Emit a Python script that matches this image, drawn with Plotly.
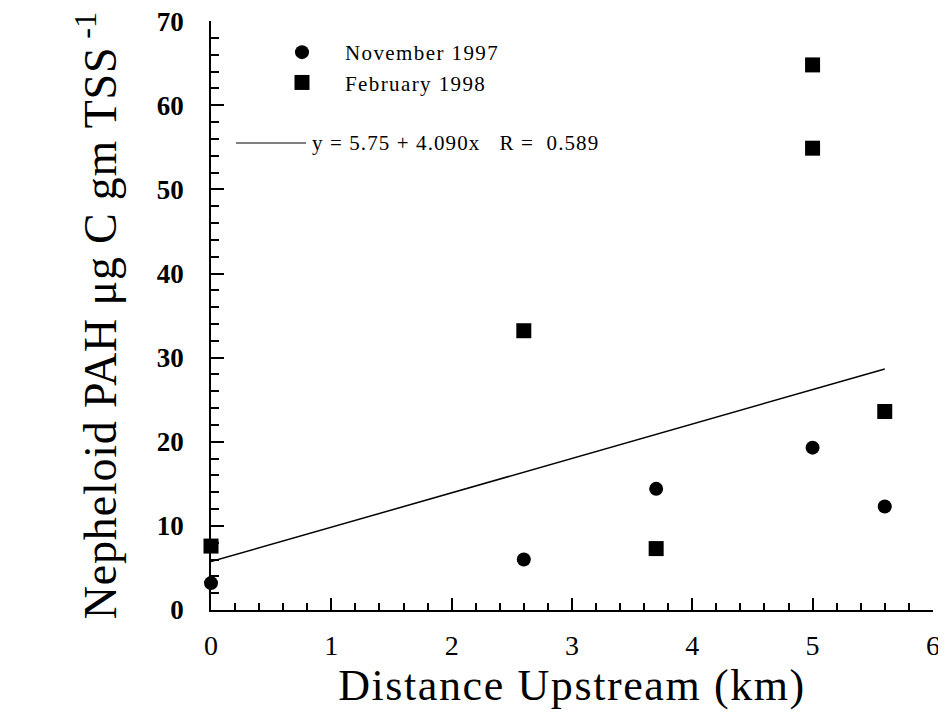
import plotly.graph_objects as go

# Data
nov_x = [0.0, 2.6, 3.7, 5.0, 5.6]
nov_y = [3.2, 6.0, 14.4, 19.3, 12.3]
feb_x = [0.0, 2.6, 3.7, 5.0, 5.0, 5.6]
feb_y = [7.6, 33.2, 7.3, 64.8, 54.9, 23.6]
fit_intercept = 5.75
fit_slope = 4.090
fit_r = 0.589
fit_x = [0.0, 5.6]
fit_y = [fit_intercept + fit_slope * v for v in fit_x]

x_ticks = [0, 1, 2, 3, 4, 5, 6]
y_ticks = [0, 10, 20, 30, 40, 50, 60, 70]

FONT = "Liberation Serif"


def spaced(text, px):
    return f'<span style="letter-spacing:{px}px">{text}</span>'


# page body has an 8px margin: figure origin sits at page (8, 8)
OFF = 8
W, H = 946 - OFF, 719 - OFF
L, T = 211 - OFF, 21 - OFF
R = W - (933 - OFF)
B = H - (610 - OFF)
PW, PH = W - L - R, H - T - B


def px_x(p):
    return (p - OFF - L) / PW


def px_y(p):
    return (H - B - (p - OFF)) / PH


fig = go.Figure()
fig.add_trace(go.Scatter(
    x=fit_x, y=fit_y, mode="lines", line=dict(color="black", width=1.5),
    showlegend=False, cliponaxis=False, hoverinfo="skip"))
fig.add_trace(go.Scatter(
    x=nov_x, y=nov_y, mode="markers", name=spaced("November 1997", 1.4),
    marker=dict(symbol="circle", size=14, color="black"), cliponaxis=False))
fig.add_trace(go.Scatter(
    x=feb_x, y=feb_y, mode="markers", name=spaced("February 1998", 1.4),
    marker=dict(symbol="square", size=15, color="black"), cliponaxis=False))

# regression legend entry
fig.add_shape(type="line", xref="paper", yref="paper",
              x0=px_x(236), x1=px_x(306), y0=px_y(143), y1=px_y(143),
              line=dict(color="black", width=1))
fig.add_annotation(xref="paper", yref="paper",
                   x=px_x(310), y=px_y(143),
                   xanchor="left", yanchor="middle", showarrow=False,
                   text=spaced(f"y = {fit_intercept:.2f} + {fit_slope:.3f}x   R =  {fit_r:.3f}", 1.1),
                   font=dict(family=FONT, size=21, color="black"))

fig.update_layout(
    width=W, height=H,
    margin=dict(l=L, r=R, t=T, b=B),
    paper_bgcolor="white", plot_bgcolor="white",
    font=dict(family=FONT, color="black"),
    legend=dict(x=px_x(259), y=px_y(32), xanchor="left", yanchor="top",
                font=dict(family=FONT, size=21, color="black"),
                itemwidth=76, bgcolor="rgba(0,0,0,0)", tracegroupgap=0),
    xaxis=dict(range=[0, 6.001], tickvals=x_ticks, ticktext=[str(v) for v in x_ticks],
               automargin=False, ticklabeloverflow="allow",
               ticks="inside", ticklen=12, tickwidth=1.5, tickcolor="black",
               minor=dict(ticks="inside", dtick=0.2, ticklen=7, tickwidth=1.5, tickcolor="black"),
               showline=True, linecolor="black", linewidth=1.5,
               showgrid=False, zeroline=False,
               ticklabelstandoff=10,
               tickfont=dict(family=FONT, size=28, color="black"),
               title=dict(text=spaced("Distance Upstream (km)", 1.6), standoff=7,
                          font=dict(family=FONT, size=44, color="black"))),
    yaxis=dict(range=[0, 70.02], tickvals=y_ticks, ticktext=[str(v) for v in y_ticks],
               automargin=False, ticklabeloverflow="allow",
               ticks="inside", ticklen=13, tickwidth=1.5, tickcolor="black",
               minor=dict(ticks="inside", dtick=2, ticklen=8, tickwidth=1.5, tickcolor="black"),
               showline=True, linecolor="black", linewidth=1.5,
               showgrid=False, zeroline=False,
               ticklabelstandoff=20,
               tickfont=dict(family=FONT, size=27, color="black", weight="bold"),
               title=dict(text=spaced("Nepheloid PAH \u03bcg C gm TSS", 0.8) + "<sup> -1</sup>",
                          standoff=26,
                          font=dict(family=FONT, size=46, color="black"))),
)

fig.write_html("out.html")
